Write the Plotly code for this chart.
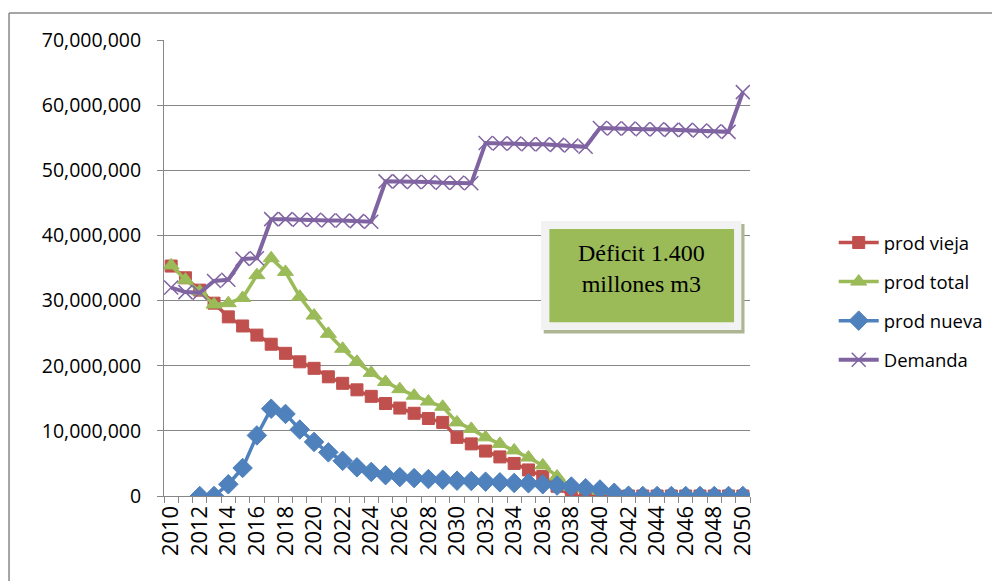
import plotly.graph_objects as go

years = list(range(2010, 2051))

prod_vieja = [35.3, 33.5, 31.6, 29.6, 27.5, 26.1, 24.7, 23.3, 21.9, 20.6,
              19.6, 18.3, 17.3, 16.3, 15.3, 14.2, 13.5, 12.7, 11.9, 11.3,
              9.0, 8.0, 6.9, 6.0, 5.0, 4.0, 3.0, 1.5, 0.0, 0.0,
              0.0, 0.0, 0.0, 0.0, 0.0, 0.0, 0.0, 0.0, 0.0, 0.0, 0.0]

prod_total = [35.4, 33.2, 31.4, 29.4, 29.6, 30.4, 33.9, 36.5, 34.4, 30.6,
              27.7, 24.9, 22.6, 20.6, 18.9, 17.5, 16.4, 15.4, 14.5, 13.7,
              11.3, 10.3, 9.0, 8.0, 7.0, 5.9, 4.7, 3.0, 1.4, 1.1,
              0.8, 0.3, 0.0, 0.0, 0.0, 0.0, 0.0, 0.0, 0.0, 0.0, 0.0]

prod_nueva = [None, None, 0.0, 0.0, 1.8, 4.3, 9.3, 13.4, 12.6, 10.2,
              8.3, 6.7, 5.4, 4.4, 3.7, 3.2, 2.9, 2.75, 2.6, 2.5,
              2.35, 2.3, 2.2, 2.1, 2.0, 1.95, 1.8, 1.6, 1.45, 1.2,
              1.0, 0.5, 0.05, 0.0, 0.0, 0.0, 0.0, 0.0, 0.0, 0.0, 0.0]

demanda = [32.0, 31.3, 31.2, 33.0, 33.2, 36.4, 36.5, 42.5, 42.5, 42.4,
           42.4, 42.3, 42.3, 42.2, 42.1, 48.3, 48.3, 48.2, 48.2, 48.1,
           48.1, 48.0, 54.2, 54.1, 54.1, 54.0, 54.0, 53.9, 53.8, 53.6,
           56.5, 56.4, 56.4, 56.3, 56.3, 56.2, 56.2, 56.1, 56.0, 55.9,
           62.0]

MILLION = 1_000_000

def scale(vals):
    return [None if v is None else v * MILLION for v in vals]

x_ticks = list(range(2010, 2051, 2))
x_ticktext = [str(y) for y in x_ticks]
y_ticks = list(range(0, 70_000_001, 10_000_000))

series = [
    ("prod vieja", prod_vieja, "#C0504D", "square", 12, 1, 3.5),
    ("prod total", prod_total, "#9BBB59", "triangle-up", 14, 1, 3.5),
    ("prod nueva", prod_nueva, "#4F81BD", "diamond", 15, 1, 3.5),
    ("Demanda", demanda, "#8064A2", "x-thin", 14, 1.5, 4),
]

fig = go.Figure()
for name, vals, color, symbol, size, mlw, lw in series:
    fig.add_trace(go.Scatter(
        x=years, y=scale(vals), name=name, mode="lines+markers",
        line=dict(color=color, width=lw),
        marker=dict(symbol=symbol, size=size, color=color,
                    line=dict(color=color, width=mlw)),
        legendgroup=name, connectgaps=False,
    ))

# page offset caused by default body margin
OFF = 8
# plot area in page pixels
L, R, T, B = 164, 752, 40, 496
W, H = 1000, 581

def px(xp):
    return (xp - L) / (R - L)

def py(yp):
    return (B - yp) / (B - T)

grid = "#878787"
fig.update_layout(
    width=W - OFF, height=H - OFF,
    margin=dict(l=L - OFF, r=W - R, t=T - OFF, b=H - B),
    paper_bgcolor="white", plot_bgcolor="white",
    font=dict(family="Open Sans", size=19, color="#000000"),
    showlegend=True,
    legend=dict(x=px(836), y=py(224), xanchor="left", yanchor="top",
                traceorder="grouped", tracegroupgap=12,
                font=dict(family="Open Sans", size=18.5, color="#000000"),
                bgcolor="rgba(0,0,0,0)", itemwidth=40),
    xaxis=dict(range=[2009.5, 2050.5], tickmode="array", tickvals=x_ticks,
               ticktext=x_ticktext, tickangle=-90, ticks="",
               showgrid=False, zeroline=False, showline=True,
               linecolor=grid, linewidth=1,
               tickfont=dict(family="Open Sans", size=22, color="#000000"),
               minor=dict(tickmode="linear", tick0=2009.5, dtick=1,
                          ticks="outside", ticklen=6, tickcolor=grid,
                          tickwidth=1, showgrid=False)),
    yaxis=dict(range=[0, 70_000_000], tickmode="array", tickvals=y_ticks,
               tickformat=",", ticks="outside", ticklen=6, tickcolor=grid,
               showgrid=True, gridcolor=grid, gridwidth=1,
               zeroline=False, showline=True, linecolor=grid, linewidth=1,
               ticklabelstandoff=12,
               tickfont=dict(family="Open Sans", size=19.5, color="#000000")),
)

# outer chart border (left and top edges visible)
fig.add_shape(type="line", xref="paper", yref="paper",
              x0=px(8.5), x1=px(8.5), y0=py(13), y1=py(600),
              line=dict(color="#878787", width=1.5), layer="below")
fig.add_shape(type="line", xref="paper", yref="paper",
              x0=px(8.5), x1=px(1010), y0=py(13), y1=py(13),
              line=dict(color="#878787", width=1.5), layer="below")

# text box: shadow, light frame, green fill
fig.add_shape(type="rect", xref="paper", yref="paper",
              x0=px(545), x1=px(746.5), y0=py(224), y1=py(333.5),
              fillcolor="#AEB592", line=dict(width=0), layer="above")
fig.add_shape(type="rect", xref="paper", yref="paper",
              x0=px(542.3), x1=px(743.3), y0=py(221), y1=py(330),
              fillcolor="#F2F2F2", line=dict(width=0), layer="above")
fig.add_shape(type="rect", xref="paper", yref="paper",
              x0=px(550.7), x1=px(736), y0=py(229), y1=py(322.3),
              fillcolor="#9BBB59", line=dict(width=0), layer="above")
fig.add_annotation(xref="paper", yref="paper", x=px(643.4), y=py(268.5),
                   text="Déficit 1.400<br>millones m3", showarrow=False,
                   font=dict(family="Liberation Serif", size=24, color="#000000"),
                   align="center", xanchor="center", yanchor="middle")

fig.write_html("out.html")
